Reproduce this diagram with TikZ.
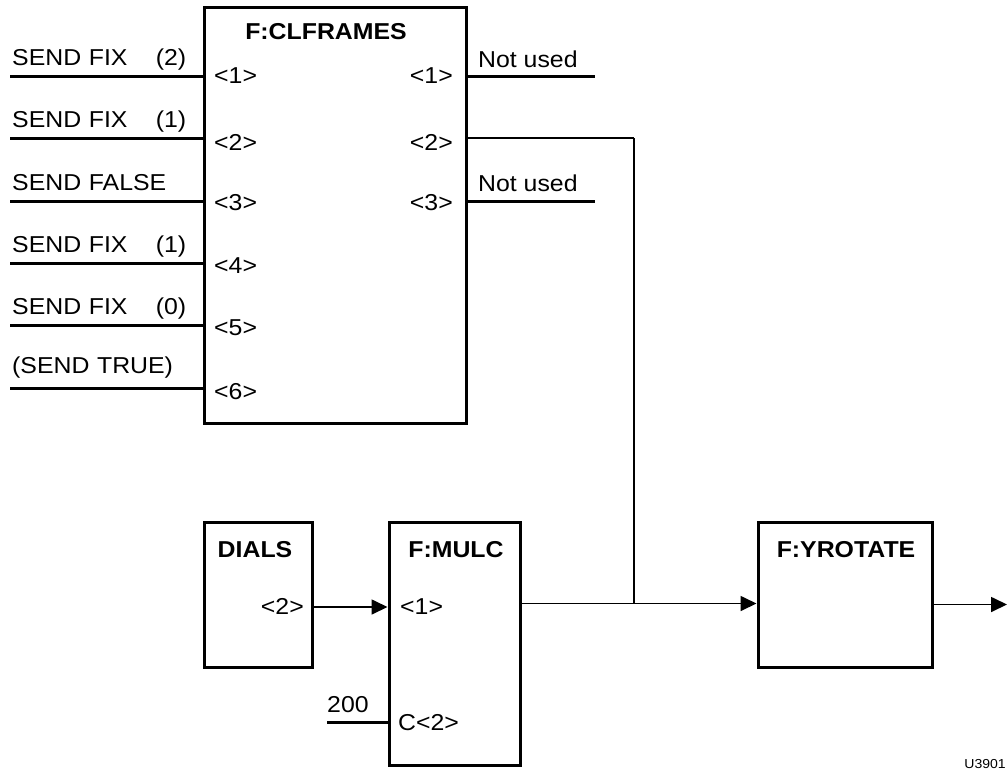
\documentclass[tikz,border=0pt]{standalone}
\usepackage{fontspec}
\setmainfont{Liberation Sans}[FakeStretch=1.08]
\usetikzlibrary{arrows.meta}
\begin{document}
\begin{tikzpicture}[x=1pt,y=-1pt,
  box/.style={draw,line width=3pt,inner sep=0pt},
  feed/.style={line width=3pt},
  wire/.style={line width=1.7pt},
  arr/.style={wire,-{Triangle[length=16pt,width=15pt]}},
  lbl/.style={font=\fontsize{23}{25}\selectfont,inner sep=0pt},
  ttl/.style={font=\fontsize{23}{25}\selectfont\bfseries,inner sep=0pt},
  inlbl/.style={lbl,anchor=base west,text width=174pt}]
\useasboundingbox (0,0) rectangle (1008,771);

% boxes
\node[box,minimum width=262pt,minimum height=416pt] (clf) at (335,215) {};
\node[box,minimum width=108pt,minimum height=145pt] (dials) at (258,594.5) {};
\node[box,minimum width=131pt,minimum height=243pt] (mulc) at (454.5,643.5) {};
\node[box,minimum width=174pt,minimum height=145pt] (yrot) at (845,594.5) {};

% titles
\node[ttl] (clft) at (326,32) {F:CLFRAMES};
\node[ttl] (dialst) at (255,550) {DIALS};
\node[ttl] (mulct) at (456,550) {F:MULC};
\node[ttl] (yrott) at (846,550) {F:YROTATE};

% CLFRAMES inputs
\coordinate (i1) at (10,76);
\coordinate (i2) at (10,138);
\coordinate (i3) at (10,201);
\coordinate (i4) at (10,263);
\coordinate (i5) at (10,325);
\coordinate (i6) at (10,388);
\foreach \k in {1,...,6}{\draw[feed] (i\k) -- (i\k -| clf.west);}
\node[inlbl] (l1) at (12,65) {SEND FIX\hfill(2)};
\node[inlbl] (l2) at (12,127) {SEND FIX\hfill(1)};
\node[inlbl] (l3) at (12,190) {SEND FALSE};
\node[inlbl] (l4) at (12,252) {SEND FIX\hfill(1)};
\node[inlbl] (l5) at (12,314) {SEND FIX\hfill(0)};
\node[inlbl] (l6) at (12,373) {(SEND TRUE)};

\node[lbl,anchor=west] (ci1) at (214,76) {<1>};
\node[lbl,anchor=west] (ci2) at (214,142) {<2>};
\node[lbl,anchor=west] (ci3) at (214,203) {<3>};
\node[lbl,anchor=west] (ci4) at (214,266) {<4>};
\node[lbl,anchor=west] (ci5) at (214,328) {<5>};
\node[lbl,anchor=west] (ci6) at (214,392) {<6>};

% CLFRAMES outputs
\node[lbl,anchor=east] (co1) at (453,76) {<1>};
\node[lbl,anchor=east] (co2) at (453,142) {<2>};
\node[lbl,anchor=east] (co3) at (453,203) {<3>};
\coordinate (o1) at (595,76);
\coordinate (o3) at (595,201);
\draw[feed] (o1 -| clf.east) -- (o1);
\draw[feed] (o3 -| clf.east) -- (o3);
\node[lbl,anchor=base west] (nu1) at (478,67) {Not used};
\node[lbl,anchor=base west] (nu3) at (478,191) {Not used};

% CLFRAMES <2> to junction
\coordinate (bend) at (634,138);
\coordinate (junc) at (634,603.5);
\draw[line width=2.6pt] (bend -| clf.east) -- (bend);
\draw[wire] (bend) -- (junc);

% DIALS
\node[lbl,anchor=east] (dp2) at (304,606) {<2>};
\draw[arr] (dials.east |- 0,607) -- (mulc.west |- 0,607);

% MULC
\node[lbl,anchor=west] (mp1) at (400,607) {<1>};
\node[lbl,anchor=west] (mp2) at (398,723) {C<2>};
\coordinate (c200) at (327,722);
\draw[feed] (c200) -- (c200 -| mulc.west);
\node[lbl,anchor=base west] (v200) at (327,712) {200};
\draw[arr] (mulc.east |- junc) -- (junc) -- (yrot.west |- junc);

% YROTATE output
\coordinate (yout) at (1007,604.5);
\draw[arr] (yrot.east |- yout) -- (yout);

% figure id
\node[font=\fontsize{13}{14}\selectfont,inner sep=0pt,anchor=base east] (fid) at (1006,768) {U3901};
\end{tikzpicture}
\end{document}
